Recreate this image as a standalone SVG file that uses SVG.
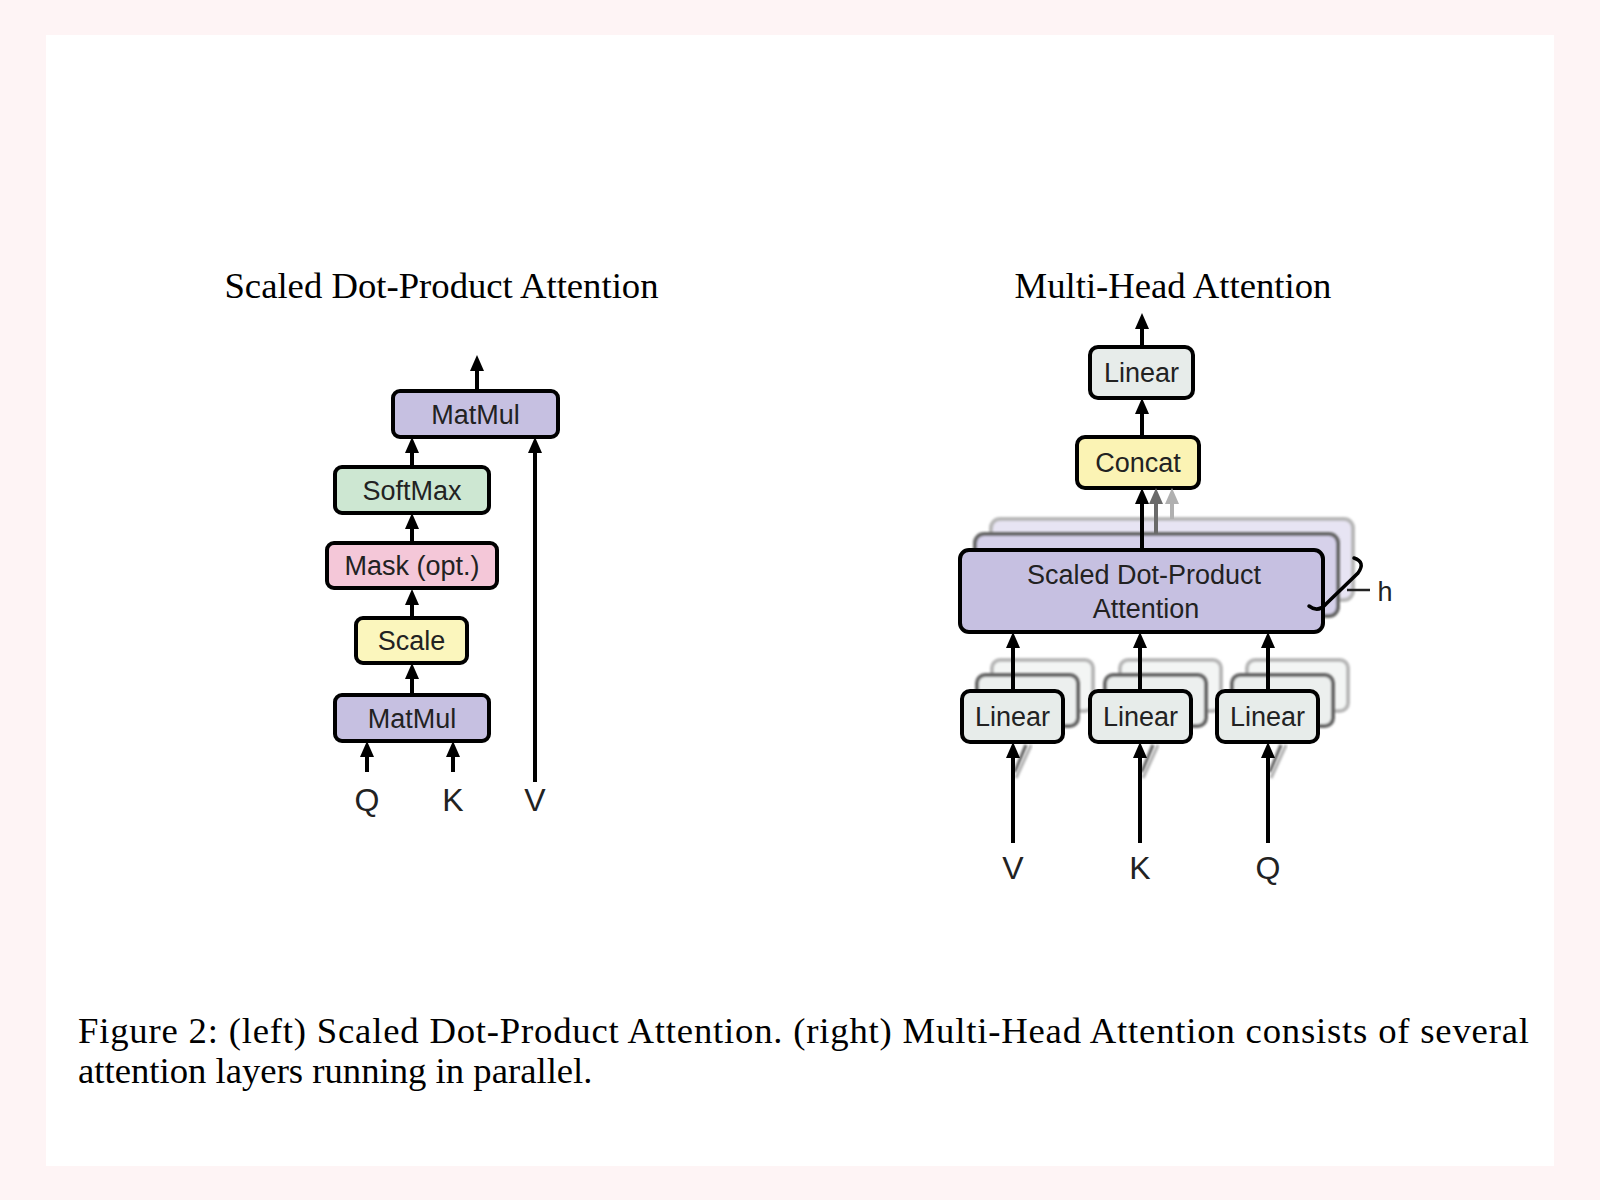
<svg xmlns="http://www.w3.org/2000/svg" width="1600" height="1200" viewBox="0 0 1600 1200">
<defs>
<style>
.lbl{font-family:"Liberation Sans",Arial,Helvetica,sans-serif;font-size:27px;fill:#222;text-anchor:middle}
.io{font-family:"Liberation Sans",Arial,Helvetica,sans-serif;font-size:32px;fill:#222;text-anchor:middle}
.title{font-family:"Liberation Serif","Times New Roman",serif;font-size:36.7px;fill:#000;text-anchor:middle}
.cap{font-family:"Liberation Serif","Times New Roman",serif;font-size:36.7px;fill:#000}
.box{stroke:#000;stroke-width:4}
.purple{fill:#c6c0e1}
.green{fill:#cde7d2}
.pink{fill:#f4c7d8}
.yellow{fill:#fbf6bd}
.gray{fill:#e7ecea}
.concat{fill:#fbf3b4}
.back2{stroke:#666;stroke-width:4;filter:url(#soft)}
.back3{stroke:#b8b8b8;stroke-width:4;filter:url(#soft)}
.arr{stroke:#000;stroke-width:4;fill:none;marker-end:url(#ah)}
.arr2{stroke:#6a6a6a;stroke-width:4;fill:none;marker-end:url(#ah2)}
.arr3{stroke:#b0b0b0;stroke-width:4;fill:none;marker-end:url(#ah3)}
.ln2{stroke:#6a6a6a;stroke-width:3.5;fill:none;filter:url(#soft)}
.ln3{stroke:#b8b8b8;stroke-width:3.5;fill:none;filter:url(#soft)}
</style>
<filter id="soft" x="-10%" y="-10%" width="120%" height="120%"><feGaussianBlur stdDeviation="0.9"/></filter>
<marker id="ah" viewBox="0 0 16 14" markerWidth="16" markerHeight="14" refX="5" refY="7" orient="auto" markerUnits="userSpaceOnUse"><path d="M0,0 L16,7 L0,14 z" fill="#000"/></marker>
<marker id="ah2" viewBox="0 0 16 14" markerWidth="16" markerHeight="14" refX="5" refY="7" orient="auto" markerUnits="userSpaceOnUse"><path d="M0,0 L16,7 L0,14 z" fill="#6a6a6a"/></marker>
<marker id="ah3" viewBox="0 0 16 14" markerWidth="16" markerHeight="14" refX="5" refY="7" orient="auto" markerUnits="userSpaceOnUse"><path d="M0,0 L16,7 L0,14 z" fill="#b0b0b0"/></marker>
</defs>

<rect width="1600" height="1200" fill="#fef4f5"/>
<rect x="46" y="35" width="1508" height="1131" fill="#fff"/>

<text class="title" x="441.5" y="298">Scaled Dot-Product Attention</text>
<text class="title" x="1173" y="298">Multi-Head Attention</text>

<!-- Left: Scaled Dot-Product Attention -->
<g id="matmul-top"><rect class="box purple" x="393" y="391" width="165" height="46" rx="7"/><text class="lbl" x="475.5" y="423.7">MatMul</text></g>
<g id="softmax"><rect class="box green" x="335" y="467" width="154" height="46" rx="7"/><text class="lbl" x="412" y="499.7">SoftMax</text></g>
<g id="mask"><rect class="box pink" x="327" y="543" width="170" height="45" rx="7"/><text class="lbl" x="412" y="575.2">Mask (opt.)</text></g>
<g id="scale"><rect class="box yellow" x="356" y="618" width="111" height="45" rx="7"/><text class="lbl" x="411.5" y="650.2">Scale</text></g>
<g id="matmul-bottom"><rect class="box purple" x="335" y="695" width="154" height="46" rx="7"/><text class="lbl" x="412" y="727.7">MatMul</text></g>
<g id="left-q"><text class="io" x="367" y="811">Q</text></g>
<g id="left-k"><text class="io" x="453" y="811">K</text></g>
<g id="left-v"><text class="io" x="535" y="811">V</text></g>

<!-- Right: Multi-Head Attention -->
<g id="linear-out"><rect class="box gray" x="1090" y="347" width="103" height="51" rx="8"/><text class="lbl" x="1141.5" y="382.2">Linear</text></g>
<g id="concat"><rect class="box concat" x="1077" y="437" width="122" height="51" rx="8"/><text class="lbl" x="1138" y="472.2">Concat</text></g>

<g id="linear-v-back"><rect class="back3" fill="#f3f5f4" x="992" y="660" width="101" height="51" rx="8"/><rect class="back2" fill="#ecefee" x="977" y="675" width="101" height="51" rx="8"/></g>
<g id="linear-k-back"><rect class="back3" fill="#f3f5f4" x="1120" y="660" width="101" height="51" rx="8"/><rect class="back2" fill="#ecefee" x="1105" y="675" width="101" height="51" rx="8"/></g>
<g id="linear-q-back"><rect class="back3" fill="#f3f5f4" x="1247" y="660" width="101" height="51" rx="8"/><rect class="back2" fill="#ecefee" x="1232" y="675" width="101" height="51" rx="8"/></g>

<g id="sdpa-back"><rect class="back3" fill="#e7e4f3" x="991" y="519" width="362" height="81" rx="9"/><rect class="back2" fill="#d6d1ea" x="975" y="534" width="363" height="82" rx="9"/></g>

<g id="head-lines">
<line class="ln2" x1="1028" y1="675" x2="1028" y2="632"/>
<line class="ln3" x1="1043" y1="660" x2="1043" y2="632"/>
<line class="ln2" x1="1156" y1="675" x2="1156" y2="632"/>
<line class="ln3" x1="1171" y1="660" x2="1171" y2="632"/>
<line class="ln2" x1="1283" y1="675" x2="1283" y2="632"/>
<line class="ln3" x1="1298" y1="660" x2="1298" y2="632"/>
<line class="ln2" x1="1015" y1="772" x2="1026" y2="745"/>
<line class="ln3" x1="1016" y1="778" x2="1031" y2="745"/>
<line class="ln2" x1="1142" y1="772" x2="1153" y2="745"/>
<line class="ln3" x1="1143" y1="778" x2="1158" y2="745"/>
<line class="ln2" x1="1270" y1="772" x2="1281" y2="745"/>
<line class="ln3" x1="1271" y1="778" x2="1286" y2="745"/>
</g>

<g id="sdpa"><rect class="box purple" x="960" y="550" width="363" height="82" rx="9"/><text class="lbl" x="1144" y="584">Scaled Dot-Product</text><text class="lbl" x="1146" y="618">Attention</text></g>

<g id="linear-v"><rect class="box gray" x="962" y="691" width="101" height="51" rx="8"/><text class="lbl" x="1012.5" y="726">Linear</text></g>
<g id="linear-k"><rect class="box gray" x="1090" y="691" width="101" height="51" rx="8"/><text class="lbl" x="1140.5" y="726">Linear</text></g>
<g id="linear-q"><rect class="box gray" x="1217" y="691" width="101" height="51" rx="8"/><text class="lbl" x="1267.5" y="726">Linear</text></g>

<g id="right-v"><text class="io" x="1013" y="879">V</text></g>
<g id="right-k"><text class="io" x="1140" y="879">K</text></g>
<g id="right-q"><text class="io" x="1268" y="879">Q</text></g>

<g id="head-count">
<path d="M1354,558 Q1366,562 1358,573 L1326,604 Q1318,613 1309,606" fill="none" stroke="#000" stroke-width="3.5" stroke-linecap="round"/>
<line x1="1347" y1="590" x2="1370" y2="590" stroke="#222" stroke-width="2.5"/>
<text class="lbl" x="1385" y="601">h</text>
</g>

<g id="connectors">
<line class="arr" x1="477" y1="391" x2="477" y2="366"/>
<line class="arr" x1="412" y1="467" x2="412" y2="448"/>
<line class="arr" x1="412" y1="543" x2="412" y2="524"/>
<line class="arr" x1="412" y1="618" x2="412" y2="600"/>
<line class="arr" x1="412" y1="695" x2="412" y2="674"/>
<line class="arr" x1="367" y1="772" x2="367" y2="752"/>
<line class="arr" x1="453" y1="772" x2="453" y2="752"/>
<line class="arr" x1="535" y1="782" x2="535" y2="448"/>

<line class="arr" x1="1142" y1="347" x2="1142" y2="324"/>
<line class="arr" x1="1142" y1="437" x2="1142" y2="409"/>
<line class="arr" x1="1142" y1="550" x2="1142" y2="499"/>
<line class="arr2" x1="1156" y1="534" x2="1156" y2="499"/>
<line class="arr3" x1="1172" y1="519" x2="1172" y2="499"/>
<line class="arr" x1="1013" y1="691" x2="1013" y2="643"/>
<line class="arr" x1="1140" y1="691" x2="1140" y2="643"/>
<line class="arr" x1="1268" y1="691" x2="1268" y2="643"/>
<line class="arr" x1="1013" y1="843" x2="1013" y2="753"/>
<line class="arr" x1="1140" y1="843" x2="1140" y2="753"/>
<line class="arr" x1="1268" y1="843" x2="1268" y2="753"/>
</g>

<text class="cap" x="78" y="1043" textLength="1451" lengthAdjust="spacing">Figure 2: (left) Scaled Dot-Product Attention. (right) Multi-Head Attention consists of several</text>
<text class="cap" x="78" y="1083">attention layers running in parallel.</text>
</svg>
